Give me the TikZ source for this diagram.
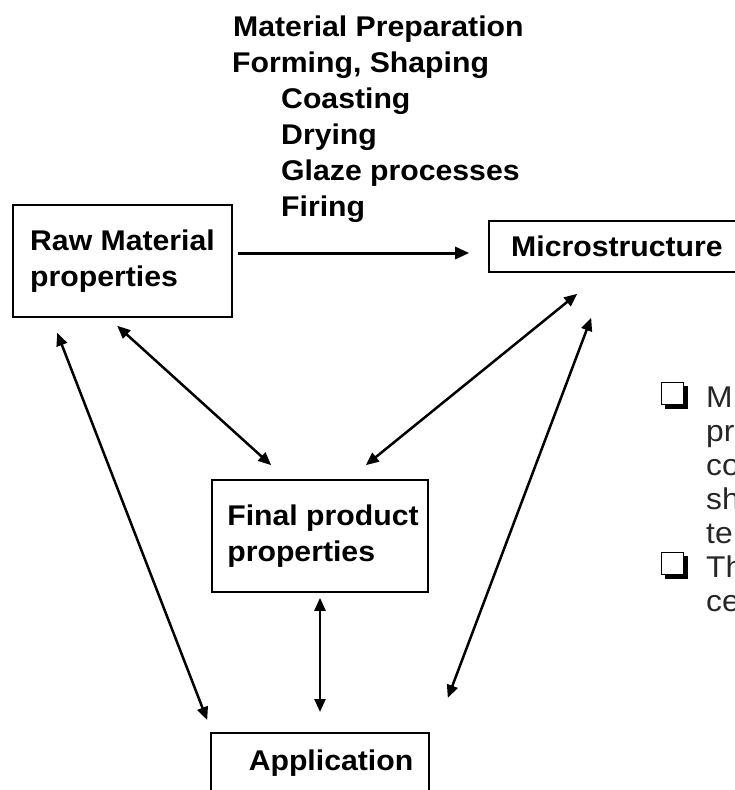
\documentclass[tikz,border=0pt]{standalone}
\usepackage{fontspec}
\setmainfont{Liberation Sans}[FakeStretch=1.06]
\usetikzlibrary{arrows.meta,calc}
\begin{document}
\begin{tikzpicture}[x=1pt,y=-1pt,
  boxfont/.style={font=\bfseries\fontsize{28.5}{36}\selectfont},
  box/.style={boxfont, draw, line width=1.6pt, align=left, inner sep=0pt},
  steplabel/.style={boxfont, anchor=base west, inner sep=0pt},
  note/.style={font=\fontsize{30}{34}\selectfont, text=black!85, anchor=base west, inner sep=0pt},
  oneway/.style={line width=3pt, -{Triangle[length=14pt,width=12pt]}},
  twoway/.style={line width=2.5pt, {Triangle[length=13pt,width=11pt]}-{Triangle[length=13pt,width=11pt]}}
]
\useasboundingbox (0,0) rectangle (735,790);
\clip (0,0) rectangle (735,790);

% process steps
\node[steplabel] (prep) at (233,36) {Material Preparation};
\node[steplabel] (form) at (232,72) {Forming, Shaping};
\node[steplabel] (coast) at (281,108) {Coasting};
\node[steplabel] (dry) at (281,144) {Drying};
\node[steplabel] (glaze) at (281,180) {Glaze processes};
\node[steplabel] (fire) at (281,216) {Firing};

% boxes
\node[box, minimum width=219pt, minimum height=112pt] (raw) at (122.5,261) {Raw Material\\properties};
\node[box, minimum width=256pt, minimum height=51pt] (micro) at (617,246.5) {Microstructure};
\node[box, minimum width=216pt, minimum height=112pt] (final) at (320,536) {\hspace*{6pt}Final product\\\hspace*{6pt}properties};
\node[box, minimum width=218pt, minimum height=60pt, anchor=north] (app) at (320,732) {\hspace*{22pt}Application};

% connectors
\draw[oneway] ($(raw.east)+(5,-8)$) -- ($(micro.west)+(-19,6.5)$);
\draw[twoway] ($(raw.south west)+(105,8)$) -- ($(final.north west)+(60,-14)$);
\draw[twoway] ($(raw.south west)+(45,15)$) -- ($(app.north west)+(-3,-12)$);
\draw[twoway] ($(micro.south west)+(89,21)$) -- ($(final.north east)+(-63,-14)$);
\draw[twoway] ($(micro.south west)+(103,45)$) -- ($(app.north east)+(18,-34)$);
\draw[twoway] ($(final.south)+(0,5)$) -- ($(app.north)+(0,-20)$);

% bullet squares with drop shadow
\fill[black] (665,386) rectangle (688,409);
\draw[line width=1pt, fill=white] (661,382) rectangle (683,404);
\fill[black] (665,556) rectangle (688,579);
\draw[line width=1pt, fill=white] (661,552) rectangle (683,574);

% side notes, one node per printed line
\node[note] (noteA1) at (706,407) {M};
\node[note] (noteA2) at (706,441) {pr};
\node[note] (noteA3) at (706,475) {co};
\node[note] (noteA4) at (706,509) {sh};
\node[note] (noteA5) at (706,543) {te};
\node[note] (noteB1) at (706,577) {Th};
\node[note] (noteB2) at (706,611) {ce};
\end{tikzpicture}
\end{document}
